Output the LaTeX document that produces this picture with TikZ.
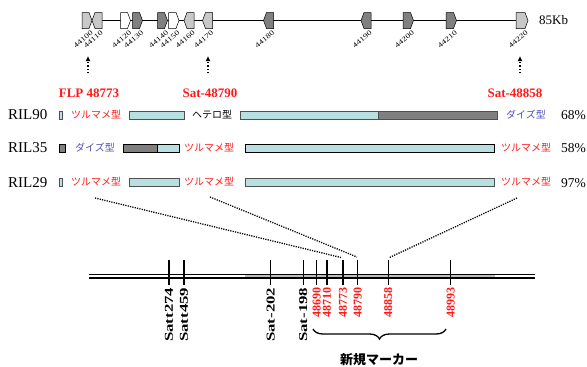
\documentclass[tikz,border=0pt]{standalone}
\usepackage{fontspec}
\setmainfont{Liberation Serif}
\newfontfamily\jp{Noto Sans CJK JP}
\usetikzlibrary{arrows.meta,decorations.pathreplacing}
\definecolor{barfill}{HTML}{B8E0E2}
\definecolor{bardraw}{HTML}{505050}
\definecolor{dgray}{HTML}{808080}
\definecolor{lgray}{HTML}{C8C8C8}
\definecolor{chromgray}{HTML}{BEBEBE}
\definecolor{jred}{HTML}{FF1A1A}
\definecolor{jblue}{HTML}{5050B0}
\newcommand\generight[4]{%
  \draw[genestyle, fill=#3] (#1,12.5) -- (#2-3,12.5) -- (#2,20.5) -- (#2-3,28.5) -- (#1,28.5) -- cycle;
  \node[genelabel] (g#4) at ({(#1+#2)/2+5},32) {\scalebox{1.3}[1]{#4}};}
\newcommand\geneleft[4]{%
  \draw[genestyle, fill=#3] (#1+3,12.5) -- (#2,12.5) -- (#2,28.5) -- (#1+3,28.5) -- (#1,20.5) -- cycle;
  \node[genelabel] (g#4) at ({(#1+#2)/2+5},32) {\scalebox{1.3}[1]{#4}};}
\begin{document}
\begin{tikzpicture}[x=1pt,y=-1pt,
  genestyle/.style={draw=black, line width=0.5pt},
  genelabel/.style={rotate=40, anchor=east, inner sep=0pt, font=\fontsize{7}{7}\selectfont},
  rillabel/.style={anchor=west, inner sep=0pt, font=\fontsize{15}{16}\selectfont},
  pctlabel/.style={anchor=west, inner sep=0pt, font=\fontsize{13.5}{14}\selectfont},
  redtop/.style={inner sep=0pt, text=jred, font=\fontsize{13}{14}\selectfont\bfseries},
  jtype/.style={inner sep=0pt, font=\fontsize{10}{11}\jp},
  bar/.style={fill=barfill, draw=bardraw, line width=1pt},
  darkbar/.style={fill=dgray, draw=bardraw, line width=1pt},
  upar/.style={dotted, line width=1.2pt, -{Latex[length=5pt,width=5pt]}},
  dotline/.style={line width=1.3pt, dash pattern=on 1.2pt off 1.2pt},
  tick/.style={line width=1.1pt},
  mlabel/.style={rotate=90, anchor=east, inner sep=0pt, font=\fontsize{12}{12}\selectfont\bfseries},
]
\useasboundingbox (0,0) rectangle (587,367);

% ---- gene track ----
\draw[line width=0.7pt] (82,20.5) -- (528,20.5);
\generight{82}{92}{lgray}{44100}
\geneleft{92}{102}{lgray}{44110}
\generight{120.5}{130.5}{white}{44120}
\generight{132.5}{142.5}{dgray}{44130}
\generight{157.5}{167.5}{dgray}{44140}
\generight{168.5}{179}{white}{44150}
\geneleft{184}{194}{lgray}{44160}
\geneleft{202.5}{212.5}{lgray}{44170}
\geneleft{263.5}{273.5}{dgray}{44180}
\geneleft{361}{371}{dgray}{44190}
\generight{403}{413.5}{dgray}{44200}
\generight{446}{456.5}{dgray}{44210}
\generight{516}{528}{lgray}{44220}
\node[anchor=west, inner sep=0pt, font=\fontsize{13}{14}\selectfont] (kb) at (539,20.5) {85Kb};

% ---- arrows and marker names ----
\coordinate (a1s) at (88,73); \coordinate (a1e) at (88,56);
\coordinate (a2s) at (208,73); \coordinate (a2e) at (208,56);
\coordinate (a3s) at (520,73); \coordinate (a3e) at (520,56);
\draw[upar] (a1s) -- (a1e);
\draw[upar] (a2s) -- (a2e);
\draw[upar] (a3s) -- (a3e);
\node[redtop] (flp) at (89,93) {FLP 48773};
\node[redtop] (s790) at (210,93) {Sat-48790};
\node[redtop] (s858) at (515,93) {Sat-48858};

% ---- RIL90 ----
\node[rillabel] (r90) at (8,115) {RIL90};
\draw[bar] (59.5,111) rectangle (62.5,119);
\node[jtype, text=jred] (r90a) at (96,115) {ツルマメ型};
\draw[bar] (129,111) rectangle (184,119);
\node[jtype, text=black] (r90b) at (212,115) {ヘテロ型};
\draw[bar] (240.5,111) rectangle (378,119);
\draw[darkbar] (378,111) rectangle (497,119);
\node[jtype, text=jblue] (r90c) at (526,115) {ダイズ型};
\node[pctlabel] (p90) at (561,115) {68\%};

% ---- RIL35 ----
\node[rillabel] (r35) at (8,148) {RIL35};
\draw[fill=dgray, draw=black, line width=0.8pt] (59,144) rectangle (65,152);
\node[jtype, text=jblue] (r35a) at (95,147.5) {ダイズ型};
\draw[fill=barfill, draw=black, line width=0.8pt] (157,144) rectangle (179,152);
\draw[fill=dgray, draw=black, line width=0.8pt] (123,144) rectangle (157,152);
\node[jtype, text=jred] (r35b) at (209,147.5) {ツルマメ型};
\draw[fill=barfill, draw=black, line width=0.8pt] (245,144) rectangle (494,152);
\node[jtype, text=jred] (r35c) at (526,147.5) {ツルマメ型};
\node[pctlabel] (p35) at (561,148) {58\%};

% ---- RIL29 ----
\node[rillabel] (r29) at (8,183) {RIL29};
\draw[bar] (59.5,178) rectangle (62.5,186);
\node[jtype, text=jred] (r29a) at (96,182) {ツルマメ型};
\draw[bar] (129,178) rectangle (179,186);
\node[jtype, text=jred] (r29b) at (209,182) {ツルマメ型};
\draw[bar] (245,178) rectangle (494,186);
\node[jtype, text=jred] (r29c) at (526,182) {ツルマメ型};
\node[pctlabel] (p29) at (561,183) {97\%};

% ---- chromosome ----
\fill[chromgray] (245,274.5) rectangle (495,278);
\draw[line width=1.2pt] (89,274.5) -- (535,274.5);
\draw[line width=1.2pt] (89,278) -- (535,278);

\foreach \x/\n/\c/\s in {169/Satt274/black/1.4, 184/Satt459/black/1.4, 270.7/Sat-202/black/1.4, 303.3/Sat-198/black/1.4,
  316.7/48690/jred/1, 327/48710/jred/1, 343/48773/jred/1, 357.7/48790/jred/1, 388.3/48858/jred/1, 450.7/48993/jred/1}{
  \coordinate (t\n) at (\x,260);
  \coordinate (b\n) at (\x,285);
  \draw[tick] (t\n) -- (b\n);
  \node[mlabel, text=\c] (l\n) at (\x,287.5) {\scalebox{\s}[1]{\n}};
}

% ---- dotted zoom lines ----
\coordinate (d1) at (95,198);
\coordinate (d2) at (210,197);
\coordinate (d3) at (517,198);
\coordinate (e1) at (341,257.5);
\coordinate (e2) at (357,257);
\coordinate (e3) at (389.5,257.5);
\draw[dotline] (d1) -- (e1);
\draw[dotline] (d2) -- (e2);
\draw[dotline] (d3) -- (e3);

% ---- brace ----
\coordinate (brR) at (446,329);
\coordinate (brL) at (313,329);
\draw[line width=1.3pt, decorate, decoration={brace, amplitude=10pt}] (brR) -- (brL);
\node[inner sep=0pt, font=\fontsize{13}{14}\jp\bfseries] (newm) at (379,360) {新規マーカー};
\end{tikzpicture}
\end{document}
